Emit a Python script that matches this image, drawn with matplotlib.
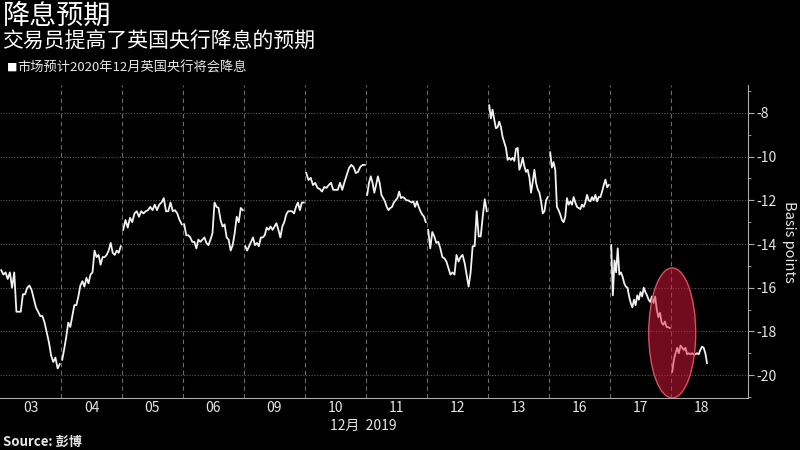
import numpy as np
import matplotlib
matplotlib.use('Agg')
import matplotlib.pyplot as plt
from matplotlib.patches import Ellipse

plt.rcParams['font.family'] = ['Noto Sans CJK SC', 'DejaVu Sans']
plt.rcParams['axes.unicode_minus'] = False

# Trading days (December 2019) and intraday readings in basis points
day_labels = ['03', '04', '05', '06', '09', '10', '11', '12', '13', '16', '17', '18']

day_03 = [-15.2, -15.4, -15.3, -15.6, -15.3, -16.0, -15.3, -17.1, -17.1, -17.1, -16.3, -16.3, -16.0, -15.9,
          -16.1, -16.5, -16.9, -17.1, -17.3, -17.3, -17.6, -18.05, -18.5, -19.1, -19.4, -19.2, -19.7, -19.5]
day_04 = [-19.3, -18.8, -18.25, -17.6, -17.8, -17.3, -16.8, -16.8, -16.4, -15.9, -15.7, -15.95, -15.55, -15.8,
          -15.4, -15.3, -14.3, -14.6, -14.5, -14.95, -14.6, -14.6, -14.5, -14.3, -13.95, -14.4, -14.5, -14.3,
          -14.4, -14.1]
day_05 = [-13.35, -12.9, -13.25, -12.8, -13.0, -12.6, -12.5, -12.75, -12.5, -12.6, -12.5, -12.45, -12.3, -12.45,
          -12.2, -12.45, -12.2, -12.1, -11.9, -12.5, -12.5, -12.1, -12.5, -12.45, -12.6, -12.9, -13.1]
day_06 = [-13.1, -13.6, -13.6, -13.7, -13.9, -13.9, -14.2, -13.8, -13.9, -13.8, -13.7, -13.95, -14.05, -13.8,
          -13.5, -12.1, -12.3, -12.35, -12.9, -13.2, -13.1, -13.7, -13.8, -14.3, -14.05, -13.5, -12.75, -13.0,
          -12.35, -12.45]
day_09 = [-14.1, -14.3, -14.1, -13.9, -13.7, -14.05, -13.95, -14.1, -13.7, -13.7, -13.6, -13.25, -13.35, -13.2,
          -13.35, -13.2, -13.05, -13.35, -13.7, -13.2, -13.0, -12.65, -12.5, -12.5, -12.5, -12.6, -12.3, -12.1,
          -12.45, -12.1, -12.1]
day_10 = [-10.75, -11.07, -10.97, -11.3, -11.2, -11.43, -11.48, -11.6, -11.39, -11.43, -11.3, -11.2, -11.52,
          -11.52, -11.52, -11.2, -11.52, -11.16, -10.84, -10.52, -10.38, -10.47, -10.75, -10.7, -10.47, -10.38,
          -10.38]
day_11 = [-11.75, -11.2, -10.9, -11.2, -11.65, -11.3, -10.9, -11.2, -11.75, -11.9, -12.05, -12.3, -12.45, -12.35,
          -12.3, -12.1, -12.0, -11.9, -11.6, -11.9, -11.85, -11.9, -12.0, -12.0, -12.05, -12.1, -12.05, -12.3,
          -12.05, -12.3, -12.5, -12.65, -12.75, -13.0]
day_12 = [-13.35, -14.2, -13.45, -13.65, -13.95, -13.9, -14.2, -14.6, -14.65, -14.8, -15.1, -15.4, -15.3, -15.4,
          -14.5, -14.8, -14.6, -14.5, -14.85, -15.4, -15.95, -15.3, -14.1, -14.1, -12.5, -13.65, -13.65, -12.75,
          -11.95, -12.5]
day_13 = [-7.65, -8.25, -7.85, -8.3, -8.7, -8.65, -8.4, -8.65, -9.1, -9.35, -9.6, -10.15, -10.05, -10.15, -10.05,
          -10.2, -9.65, -9.6, -10.6, -10.4, -10.05, -10.45, -10.7, -10.6, -10.95, -11.65, -11.15, -10.6, -11.2,
          -11.5, -11.65, -12.05, -12.6, -12.5, -12.0, -11.85]
day_16 = [-9.8, -10.5, -10.25, -10.6, -12.3, -12.45, -12.65, -12.9, -13.0, -12.75, -11.9, -12.2, -12.05, -12.2,
          -11.85, -12.1, -12.3, -12.35, -12.4, -12.2, -12.3, -12.1, -11.75, -12.0, -12.05, -11.85, -12.0, -11.75,
          -12.05, -11.85, -11.85, -11.6, -11.3, -11.05, -11.4, -11.3]
day_17 = [-14.05, -16.35, -14.75, -15.3, -14.2, -15.4, -15.3, -15.5, -15.8, -15.95, -16.0, -16.4, -16.7, -16.9,
          -16.55, -16.8, -16.35, -16.55, -16.2, -16.4, -16.0, -16.2, -16.35, -16.55, -16.65, -16.4, -16.7, -16.4,
          -17.0, -17.35, -17.15, -17.6, -17.7, -17.55, -17.8, -17.8, -17.85]
day_18 = [-19.85, -19.3, -19.0, -18.75, -19.0, -18.65, -18.75, -18.85, -18.75, -19.05, -19.0, -19.05, -19.0,
          -19.05, -19.05, -19.0, -19.05, -18.85, -18.7, -18.75, -19.0, -19.45]

days = [day_03, day_04, day_05, day_06, day_09, day_10, day_11, day_12, day_13, day_16, day_17, day_18]
last_day_progress = 0.59   # the last session is only partly done

fig = plt.figure(figsize=(8, 4.5), dpi=100, facecolor='black')
ax = fig.add_axes([0, 1 - 398 / 450, 748 / 800, (398 - 85) / 450], facecolor='black')

# one segment per trading day, no line across the overnight gap
for i, vals in enumerate(days):
    end = last_day_progress if i == len(days) - 1 else 0.98
    x = i + np.linspace(0.02, end, len(vals))
    ax.plot(x, vals, color='#f2f2f2', linewidth=1.3, solid_joinstyle='round', zorder=3)

# highlight of the latest move
ax.add_patch(Ellipse((11.02, -18.07), 0.77, 5.95, facecolor='#e0183c', alpha=0.5,
                     edgecolor='none', zorder=4))
ax.add_patch(Ellipse((11.02, -18.07), 0.77, 5.95, facecolor='none', edgecolor='#d8505e',
                     linewidth=1, zorder=5))

ax.set_xlim(0, 748 / 61)
ax.set_ylim(-21.05, -6.72)

# day separators and horizontal grid
for b in range(1, len(days)):
    ax.axvline(b, color='#6a6a6a', linestyle=(0, (4, 3)), linewidth=0.8, zorder=1)
for v in range(-20, -7, 2):
    ax.axhline(v, color='#5a5a5a', linestyle=(0, (1, 1.5)), linewidth=0.8, zorder=1)

ax.set_xticks(np.arange(len(days)) + 0.5)
ax.set_xticklabels(day_labels)
ax.tick_params(axis='x', length=0, colors='#e6e6e6', labelsize=10, pad=2)

ax.yaxis.tick_right()
ax.yaxis.set_label_position('right')
ax.set_yticks(range(-20, -7, 2))
ax.set_yticks(range(-21, -6, 2), minor=True)
ax.tick_params(axis='y', which='major', length=4, color='#aaaaaa', colors='#e6e6e6', labelsize=10, pad=2)
ax.tick_params(axis='y', which='minor', length=2.5, color='#aaaaaa')
ax.set_ylabel('Basis points', color='#e6e6e6', fontsize=10.5, rotation=-90, labelpad=14)

for side in ['left', 'top']:
    ax.spines[side].set_visible(False)
ax.spines['right'].set_color('#aaaaaa')
ax.spines['bottom'].set_color('#aaaaaa')

fig.text(363 / 800, 1 - 426 / 450, '12月  2019', color='#e6e6e6', fontsize=10, ha='center', va='center')

fig.text(0.003, 1 - 16 / 450, '降息预期', color='white', fontsize=19.5, ha='left', va='center')
fig.text(0.003, 1 - 42 / 450, '交易员提高了英国央行降息的预期', color='white', fontsize=15,
         ha='left', va='center')
fig.text(7 / 800, 1 - 68 / 450, '■', color='white', fontsize=7.5, ha='left', va='center')
fig.text(17 / 800, 1 - 68 / 450, '市场预计2020年12月英国央行将会降息', color='#e6e6e6', fontsize=9.5,
         ha='left', va='center')
fig.text(3 / 800, 1 - 442 / 450, 'Source: 彭博', color='#e6e6e6', fontsize=9.5, fontweight='bold',
         ha='left', va='center')

fig.savefig('out.png', dpi=100, facecolor='black')
